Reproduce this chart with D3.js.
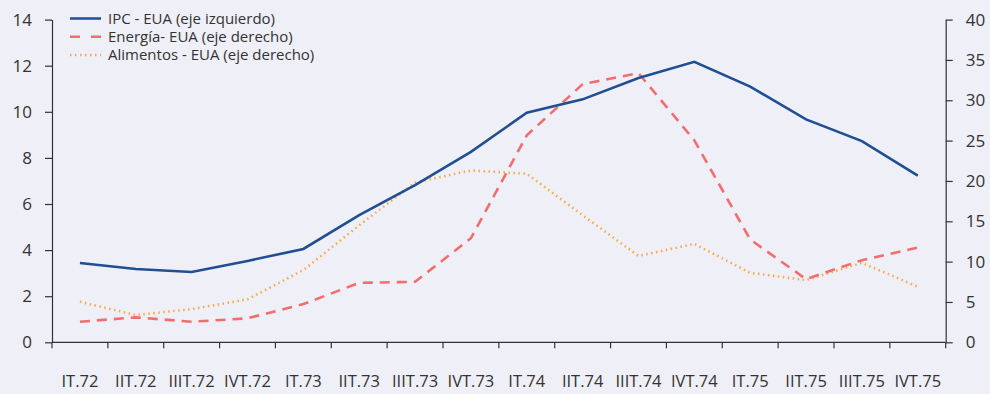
<!DOCTYPE html>
<html>
<head>
<meta charset="utf-8">
<script src="https://cdn.jsdelivr.net/npm/d3@7"></script>
<style>
  html, body { margin: 0; padding: 0; background: #EFEFF7; }
  svg { display: block; }
  text { font-family: "Open Sans", "Noto Sans", sans-serif; fill: #333; }
</style>
</head>
<body>
<svg id="chart" width="990" height="394"></svg>
<script>
// Quarters 1972–1975
const quarters = ["IT.72","IIT.72","IIIT.72","IVT.72","IT.73","IIT.73","IIIT.73","IVT.73",
                  "IT.74","IIT.74","IIIT.74","IVT.74","IT.75","IIT.75","IIIT.75","IVT.75"];

// CPI, left axis (%)
const ipc = [3.44, 3.18, 3.05, 3.53, 4.05, 5.52, 6.82, 8.26,
             9.96, 10.54, 11.47, 12.17, 11.09, 9.67, 8.73, 7.23];

// Energy, right axis (%)
const energia = [2.55, 3.09, 2.55, 2.97, 4.74, 7.37, 7.5, 12.9,
                 25.65, 32.0, 33.36, 25.03, 12.74, 7.83, 10.18, 11.75];

// Food, right axis (%)
const alimentos = [5.02, 3.38, 4.12, 5.32, 8.95, 14.5, 19.8, 21.3,
                   20.9, 15.75, 10.7, 12.2, 8.61, 7.71, 9.85, 6.88];

const leftTicks = [0, 2, 4, 6, 8, 10, 12, 14];
const rightTicks = [0, 5, 10, 15, 20, 25, 30, 35, 40];

const legendItems = [
  { label: "IPC - EUA (eje izquierdo)", color: "#1F4E93", dash: null },
  { label: "Energía- EUA (eje derecho)", color: "#F26D6D", dash: "10,7" },
  { label: "Alimentos - EUA (eje derecho)", color: "#F8A945", dash: "1.5,3.5" }
];

const svg = d3.select("#chart");
const plotLeft = 52, plotRight = 945.7, plotTop = 19.6, plotBottom = 342.3;

const x = d3.scaleBand().domain(quarters).range([plotLeft, plotRight]);
const yL = d3.scaleLinear().domain([0, 14]).range([plotBottom, plotTop]);
const yR = d3.scaleLinear().domain([0, 40]).range([plotBottom, plotTop]);

// Axes
const axisColor = "#333";
const gL = svg.append("g").attr("transform", `translate(${plotLeft},0)`)
  .call(d3.axisLeft(yL).tickValues(leftTicks).tickSize(7).tickPadding(13).tickSizeOuter(0));
const gR = svg.append("g").attr("transform", `translate(${plotRight},0)`)
  .call(d3.axisRight(yR).tickValues(rightTicks).tickSize(7).tickPadding(13).tickSizeOuter(0));
const gX = svg.append("g").attr("transform", `translate(0,${plotBottom})`)
  .call(d3.axisBottom(x).tickSize(6).tickPadding(27).tickSizeOuter(0));

// x ticks sit on the band boundaries
gX.selectAll(".tick line").attr("transform", `translate(${-x.bandwidth() / 2},0)`);
gX.append("line").attr("x1", plotRight).attr("x2", plotRight).attr("y1", 0).attr("y2", 6);

[gL, gR, gX].forEach(g => {
  g.selectAll(".domain").attr("stroke", axisColor).attr("stroke-width", 1.2);
  g.selectAll("line").attr("stroke", axisColor).attr("stroke-width", 1.2);
  g.selectAll("text").style("font-size", "17px").attr("fill", "#333");
});
gX.selectAll("text").style("font-size", "16.5px");
gX.select(".domain").attr("d", `M${plotLeft},0H${plotRight}`);

// Lines
const cx = i => x(quarters[i]) + x.bandwidth() / 2;
const lineL = d3.line().x((d, i) => cx(i)).y(d => yL(d));
const lineR = d3.line().x((d, i) => cx(i)).y(d => yR(d));

svg.append("path").datum(alimentos).attr("d", lineR)
  .attr("fill", "none").attr("stroke", legendItems[2].color).attr("stroke-width", 2.5)
  .attr("stroke-dasharray", legendItems[2].dash);
svg.append("path").datum(energia).attr("d", lineR)
  .attr("fill", "none").attr("stroke", legendItems[1].color).attr("stroke-width", 2.6)
  .attr("stroke-dasharray", legendItems[1].dash);
svg.append("path").datum(ipc).attr("d", lineL)
  .attr("fill", "none").attr("stroke", legendItems[0].color).attr("stroke-width", 2.6);

// Legend
const lg = svg.append("g").attr("transform", "translate(70,18.5)");
legendItems.forEach((it, i) => {
  const row = lg.append("g").attr("transform", `translate(0,${i * 18.3})`);
  row.append("line").attr("x1", 0).attr("x2", 31).attr("y1", 0).attr("y2", 0)
    .attr("stroke", it.color).attr("stroke-width", 2.5)
    .attr("stroke-dasharray", it.dash === "10,7" ? "10,11" : it.dash);
  row.append("text").attr("x", 38).attr("y", 0).attr("dy", "0.35em")
    .style("font-size", "15px").text(it.label);
});
</script>
</body>
</html>
